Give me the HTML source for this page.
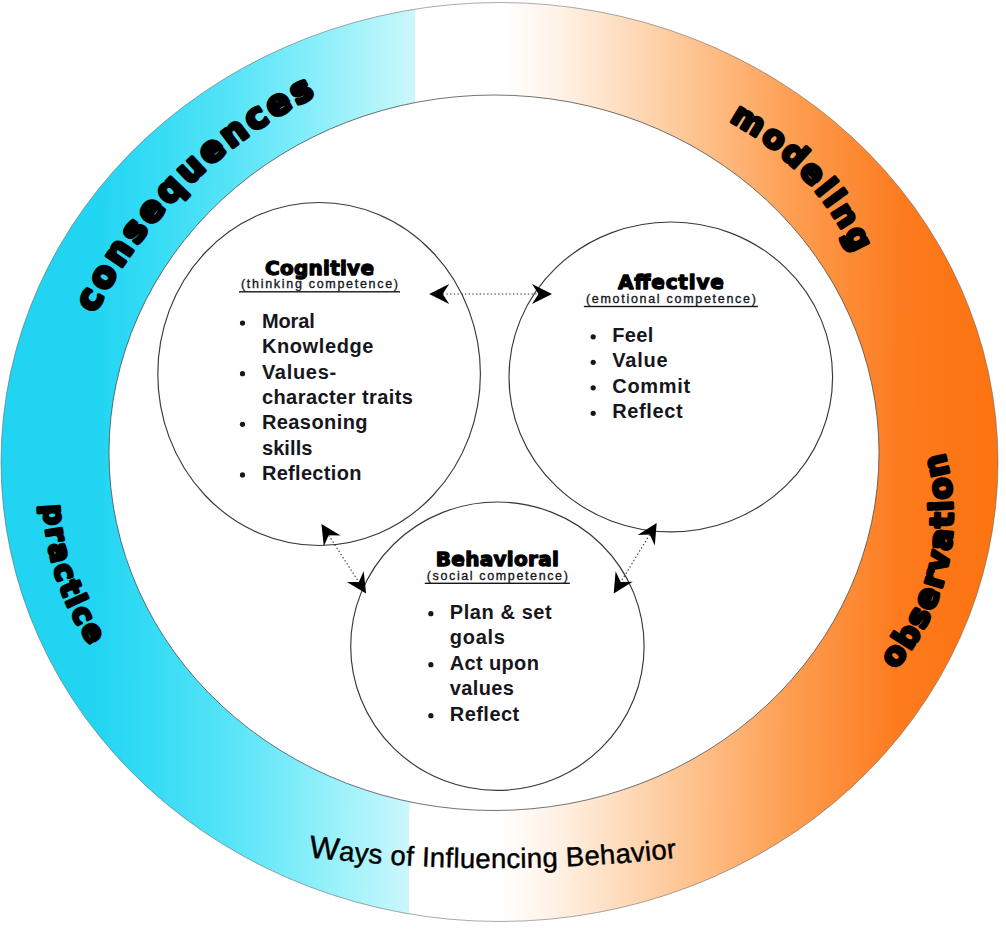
<!DOCTYPE html>
<html lang="en"><head><meta charset="utf-8"><title>Ways of Influencing Behavior</title>
<style>
html,body{margin:0;padding:0;background:#fff;}
body{width:1006px;height:929px;overflow:hidden;font-family:"Liberation Sans",sans-serif;}
svg{display:block;}
.blk{font-family:"DejaVu Sans","Liberation Sans",sans-serif;font-weight:bold;fill:#000;stroke:#000;stroke-linejoin:round;}
.hd{font-family:"DejaVu Sans","Liberation Sans",sans-serif;font-weight:bold;fill:#000;stroke:#000;stroke-width:1.3px;stroke-linejoin:round;font-size:20px;text-anchor:middle;}
.sub{font-family:"Liberation Sans",sans-serif;font-size:12.5px;fill:#16161c;stroke:#16161c;stroke-width:0.35px;text-anchor:middle;}
.li{font-family:"Liberation Sans",sans-serif;font-weight:bold;font-size:20px;fill:#16161c;letter-spacing:0.4px;}
.cap{font-family:"Liberation Sans",sans-serif;font-size:27.5px;fill:#000;stroke:#000;stroke-width:0.45px;}
</style></head><body>
<svg width="1006" height="929" viewBox="0 0 1006 929">
<defs>
<linearGradient id="g" gradientUnits="userSpaceOnUse" x1="0" y1="0" x2="1006" y2="7.27">
<stop offset="0.0000" stop-color="rgb(32,212,242)"/>
<stop offset="0.0994" stop-color="rgb(34,213,242)"/>
<stop offset="0.1590" stop-color="rgb(55,220,245)"/>
<stop offset="0.2286" stop-color="rgb(85,227,247)"/>
<stop offset="0.2883" stop-color="rgb(120,235,250)"/>
<stop offset="0.3479" stop-color="rgb(160,242,251)"/>
<stop offset="0.4128" stop-color="rgb(203,247,252)"/>
<stop offset="0.4129" stop-color="rgb(255,255,255)"/>
<stop offset="0.5020" stop-color="rgb(255,255,255)"/>
<stop offset="0.5567" stop-color="rgb(255,242,230)"/>
<stop offset="0.6362" stop-color="rgb(254,215,180)"/>
<stop offset="0.7157" stop-color="rgb(254,186,128)"/>
<stop offset="0.7952" stop-color="rgb(253,156,78)"/>
<stop offset="0.8946" stop-color="rgb(253,124,32)"/>
<stop offset="0.9443" stop-color="rgb(253,118,22)"/>
<stop offset="1.0000" stop-color="rgb(253,115,17)"/>
</linearGradient>

<path id="p1" d="M94.9,313.6 A493.5,493.5 0 0 1 703.0,74.7"/>
<path id="p2" d="M728.9,121.2 A282.6,282.6 0 0 1 841.8,512.5"/>
<path id="p3" d="M43.8,505.1 A259.2,259.2 0 0 0 257.9,752.3"/>
<path id="p4" d="M895.2,669.8 A233.8,233.8 0 0 0 869.4,337.0"/>
<path id="p5" d="M265.0,851.4 A1600.0,1600.0 0 0 0 725.0,851.4"/>
</defs>
<rect width="1006" height="929" fill="#fff"/>
<path d="M1.0,462.0 a498.5,459.5 0 1 0 997.0,0 a498.5,459.5 0 1 0 -997.0,0 Z M109.0,452.8 a385.0,357.8 0 1 0 770.0,0 a385.0,357.8 0 1 0 -770.0,0 Z" fill="url(#g)" fill-rule="evenodd"/>
<ellipse cx="499.5" cy="462" rx="498.5" ry="459.5" fill="none" stroke="#555" stroke-opacity="0.5" stroke-width="1"/>
<ellipse cx="494" cy="452.75" rx="385" ry="357.75" fill="none" stroke="#444" stroke-opacity="0.75" stroke-width="1"/>
<ellipse cx="319.1" cy="374" rx="161.3" ry="171.5" fill="none" stroke="#383838" stroke-width="1.15"/>
<ellipse cx="670.8" cy="376.9" rx="161.8" ry="154.9" fill="none" stroke="#383838" stroke-width="1.15"/>
<ellipse cx="497.4" cy="646.2" rx="146.7" ry="144.2" fill="none" stroke="#383838" stroke-width="1.15"/>
<polygon points="552.0,294.0 532.0,304.0 538.5,294.0 532.0,284.0" fill="#000"/>
<polygon points="429.2,294.0 449.2,304.0 442.7,294.0 449.2,284.0" fill="#000"/>
<line x1="442.7" y1="294.0" x2="538.5" y2="294.0" stroke="#333" stroke-width="1.1" stroke-dasharray="1.4 2.3"/>
<polygon points="366.1,593.4 346.9,582.0 358.8,582.1 363.7,571.2" fill="#000"/>
<polygon points="321.4,524.0 323.8,546.2 328.7,535.3 340.6,535.4" fill="#000"/>
<line x1="328.7" y1="535.3" x2="358.8" y2="582.1" stroke="#333" stroke-width="1.1" stroke-dasharray="1.4 2.3"/>
<polygon points="613.7,593.6 615.6,571.3 620.7,582.1 632.7,581.7" fill="#000"/>
<polygon points="656.7,523.1 637.7,535.0 649.7,534.6 654.8,545.4" fill="#000"/>
<line x1="649.7" y1="534.6" x2="620.7" y2="582.1" stroke="#333" stroke-width="1.1" stroke-dasharray="1.4 2.3"/>
<text class="blk" font-size="35" stroke-width="3.5" textLength="315" lengthAdjust="spacing"><textPath href="#p1" textLength="315" lengthAdjust="spacing">consequences</textPath></text>
<text class="blk" font-size="32" stroke-width="3.1" textLength="185" lengthAdjust="spacing"><textPath href="#p2" textLength="185" lengthAdjust="spacing">modeling</textPath></text>
<text class="blk" font-size="29" stroke-width="3.0" textLength="150" lengthAdjust="spacing"><textPath href="#p3" textLength="150" lengthAdjust="spacing">practice</textPath></text>
<text class="blk" font-size="32" stroke-width="3.1" textLength="232" lengthAdjust="spacing"><textPath href="#p4" textLength="232" lengthAdjust="spacing">observation</textPath></text>
<text class="cap" textLength="369" lengthAdjust="spacing"><textPath href="#p5" startOffset="44" textLength="369" lengthAdjust="spacing"><tspan font-size="31.5">W</tspan>ays of Influencing Behavior</textPath></text>
<text class="hd" x="319.5" y="274.9" textLength="109" lengthAdjust="spacing">Cognitive</text>
<text class="sub" x="319.5" y="288.4" textLength="157" lengthAdjust="spacing">(thinking competence)</text>
<rect x="239.0" y="291.1" width="161.0" height="1.4" fill="#16161c"/>
<circle cx="242.5" cy="323.1" r="2.6" fill="#16161c"/>
<text class="li" x="261.9" y="328.0" textLength="53.2" lengthAdjust="spacing">Moral</text>
<text class="li" x="261.9" y="353.3" textLength="112" lengthAdjust="spacing">Knowledge</text>
<circle cx="242.5" cy="373.7" r="2.6" fill="#16161c"/>
<text class="li" x="261.9" y="378.6" textLength="74.7" lengthAdjust="spacing">Values-</text>
<text class="li" x="261.9" y="403.9" textLength="151.5" lengthAdjust="spacing">character traits</text>
<circle cx="242.5" cy="424.3" r="2.6" fill="#16161c"/>
<text class="li" x="261.9" y="429.2" textLength="106" lengthAdjust="spacing">Reasoning</text>
<text class="li" x="261.9" y="454.5" textLength="51" lengthAdjust="spacing">skills</text>
<circle cx="242.5" cy="474.9" r="2.6" fill="#16161c"/>
<text class="li" x="261.9" y="479.8" textLength="99.9" lengthAdjust="spacing">Reflection</text>
<text class="hd" x="670.9" y="288.8" textLength="106" lengthAdjust="spacing">Affective</text>
<text class="sub" x="670.9" y="303.3" textLength="170" lengthAdjust="spacing">(emotional competence)</text>
<rect x="583.9" y="305.8" width="174.0" height="1.4" fill="#16161c"/>
<circle cx="593.2" cy="336.8" r="2.6" fill="#16161c"/>
<text class="li" x="612.3" y="341.7" textLength="41.5" lengthAdjust="spacing">Feel</text>
<circle cx="593.2" cy="362.3" r="2.6" fill="#16161c"/>
<text class="li" x="612.3" y="367.2" textLength="55.7" lengthAdjust="spacing">Value</text>
<circle cx="593.2" cy="387.8" r="2.6" fill="#16161c"/>
<text class="li" x="612.3" y="392.7" textLength="78.3" lengthAdjust="spacing">Commit</text>
<circle cx="593.2" cy="413.3" r="2.6" fill="#16161c"/>
<text class="li" x="612.3" y="418.2" textLength="70.7" lengthAdjust="spacing">Reflect</text>
<text class="hd" x="497.3" y="565.8" textLength="123" lengthAdjust="spacing">Behavioral</text>
<text class="sub" x="497.3" y="579.7" textLength="141" lengthAdjust="spacing">(social competence)</text>
<rect x="424.8" y="582.6" width="145.0" height="1.4" fill="#16161c"/>
<circle cx="430.9" cy="613.7" r="2.6" fill="#16161c"/>
<text class="li" x="449.8" y="618.6" textLength="102.3" lengthAdjust="spacing">Plan &amp; set</text>
<text class="li" x="449.8" y="644.1" textLength="55.5" lengthAdjust="spacing">goals</text>
<circle cx="430.9" cy="664.7" r="2.6" fill="#16161c"/>
<text class="li" x="449.8" y="669.6" textLength="89.5" lengthAdjust="spacing">Act upon</text>
<text class="li" x="449.8" y="695.1" textLength="64.5" lengthAdjust="spacing">values</text>
<circle cx="430.9" cy="715.7" r="2.6" fill="#16161c"/>
<text class="li" x="449.8" y="720.6" textLength="69.8" lengthAdjust="spacing">Reflect</text>
</svg></body></html>
